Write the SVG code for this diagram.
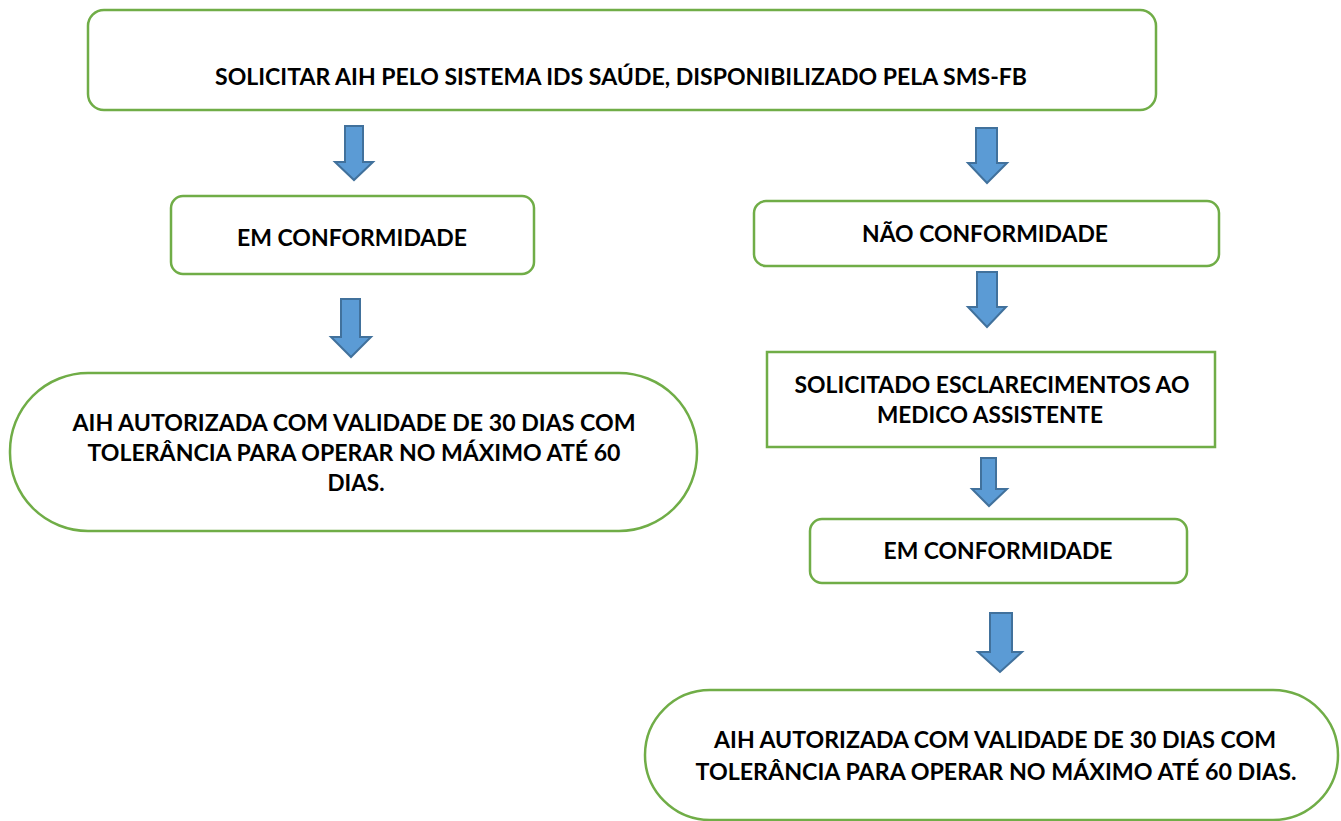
<svg xmlns="http://www.w3.org/2000/svg" width="1341" height="821" viewBox="0 0 1341 821">
<style>
.box{fill:#fff;stroke:#70AD47;stroke-width:2.5}
.arr{fill:#5B9BD5;stroke:#41719C;stroke-width:2;stroke-linejoin:miter}
text{font-family:Lato,"Liberation Sans",sans-serif;font-weight:bold;font-size:23px;fill:#000;text-anchor:middle}
</style>
<rect width="1341" height="821" fill="#fff"/>
<g id="connectors">
<polygon class="arr" points="345,126 363,126 363,162 373,162 354,180 335,162 345,162"/>
<polygon class="arr" points="341,299 360,299 360,337 371,337 351,357 331,337 341,337"/>
<polygon class="arr" points="976,128 997,128 997,163 1007,163 987,183 968,163 976,163"/>
<polygon class="arr" points="977,272 997,272 997,307 1006,307 987,327 968,307 977,307"/>
<polygon class="arr" points="981,458 996,458 996,489 1007,489 989,506 972,489 981,489"/>
<polygon class="arr" points="990,613 1012,613 1012,652 1022,652 1000,672 978,652 990,652"/>
</g>
<g id="n1">
<rect class="box" x="88" y="10" width="1068" height="100" rx="16"/>
<text x="621" y="85" textLength="812" lengthAdjust="spacingAndGlyphs">SOLICITAR AIH PELO SISTEMA IDS SAÚDE, DISPONIBILIZADO PELA SMS-FB</text>
</g>
<g id="n2">
<rect class="box" x="171" y="196" width="363" height="78" rx="12"/>
<text x="352" y="246" textLength="230" lengthAdjust="spacingAndGlyphs">EM CONFORMIDADE</text>
</g>
<g id="n3">
<rect class="box" x="10" y="373" width="687" height="158" rx="78"/>
<text x="354" y="431" textLength="563" lengthAdjust="spacingAndGlyphs">AIH AUTORIZADA COM VALIDADE DE 30 DIAS COM</text>
<text x="354" y="461" textLength="533" lengthAdjust="spacingAndGlyphs">TOLERÂNCIA PARA OPERAR NO MÁXIMO ATÉ 60</text>
<text x="356" y="491" textLength="57" lengthAdjust="spacingAndGlyphs">DIAS.</text>
</g>
<g id="n4">
<rect class="box" x="754" y="201" width="465" height="65" rx="12"/>
<text x="985" y="242" textLength="246" lengthAdjust="spacingAndGlyphs">NÃO CONFORMIDADE</text>
</g>
<g id="n5">
<rect class="box" x="767" y="352" width="448" height="95" rx="0"/>
<text x="992" y="393" textLength="395" lengthAdjust="spacingAndGlyphs">SOLICITADO ESCLARECIMENTOS AO</text>
<text x="990" y="423" textLength="226" lengthAdjust="spacingAndGlyphs">MEDICO ASSISTENTE</text>
</g>
<g id="n6">
<rect class="box" x="810" y="519" width="377" height="64" rx="12"/>
<text x="998" y="559" textLength="229" lengthAdjust="spacingAndGlyphs">EM CONFORMIDADE</text>
</g>
<g id="n7">
<rect class="box" x="645" y="690" width="693" height="130" rx="65"/>
<text x="995" y="748" textLength="562" lengthAdjust="spacingAndGlyphs">AIH AUTORIZADA COM VALIDADE DE 30 DIAS COM</text>
<text x="996" y="780" textLength="601" lengthAdjust="spacingAndGlyphs">TOLERÂNCIA PARA OPERAR NO MÁXIMO ATÉ 60 DIAS.</text>
</g>
</svg>
